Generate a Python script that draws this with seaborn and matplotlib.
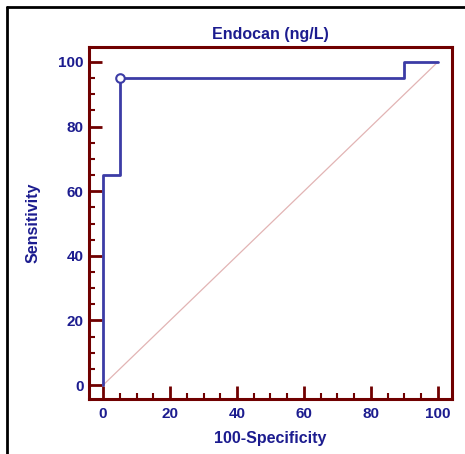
import matplotlib
matplotlib.use("Agg")
import matplotlib.pyplot as plt
from matplotlib.lines import Line2D
from matplotlib.ticker import MultipleLocator
import seaborn as sns
import pandas as pd

# ROC curve vertices (100-Specificity, Sensitivity)
fpr = [0, 0, 5, 5, 90, 90, 100]
sens = [0, 65, 65, 95, 95, 100, 100]
# criterion point (optimal cut-off)
cut_x = [5]
cut_y = [95]
diag = [0, 100]

navy = "#1c1c8f"
line_col = "#3c3ca6"
maroon = "#700000"

sns.set_theme(style="white")
plt.rcParams["font.family"] = ["Liberation Sans", "DejaVu Sans"]
plt.rcParams["font.weight"] = "bold"

fig = plt.figure(figsize=(4.65, 4.54), dpi=100)
ax = fig.add_axes([0.1914, 0.1211, 0.7806, 0.7753])

df = pd.DataFrame({"fpr": fpr, "sens": sens})
sns.lineplot(x=diag, y=diag, ax=ax, color="#e2b4b4", lw=0.9)
sns.lineplot(data=df, x="fpr", y="sens", sort=False, estimator=None, ax=ax,
             color=line_col, lw=2.0)
sns.scatterplot(x=cut_x, y=cut_y, ax=ax, s=38, facecolor="white",
                edgecolor=line_col, linewidth=1.5, zorder=5)

ax.set_xlim(-4.2, 104.2)
ax.set_ylim(-4.3, 104.6)
ax.xaxis.set_major_locator(MultipleLocator(20))
ax.xaxis.set_minor_locator(MultipleLocator(5))
ax.yaxis.set_major_locator(MultipleLocator(20))
ax.yaxis.set_minor_locator(MultipleLocator(5))

for sp in ax.spines.values():
    sp.set_color(maroon)
    sp.set_linewidth(2.2)

ax.tick_params(axis="both", which="both", bottom=True, left=True, top=False, right=False)
ax.tick_params(axis="both", which="major", direction="in", length=9.5, width=2,
               color=maroon, labelsize=11, labelcolor=navy, pad=4)
ax.tick_params(axis="both", which="minor", direction="in", length=4.5, width=1.5,
               color=maroon)
ax.tick_params(axis="x", which="major", pad=6)
for lab in ax.get_xticklabels() + ax.get_yticklabels():
    lab.set_fontweight("bold")

ax.set_title("Endocan (ng/L)", color=navy, fontsize=11.5, fontweight="bold", pad=6)
ax.set_xlabel("100-Specificity", color=navy, fontsize=11.5, fontweight="bold", labelpad=7)
ax.set_ylabel("Sensitivity", color=navy, fontsize=11.5, fontweight="bold", labelpad=12.5)

# outer frame (left and top edges visible)
fig.add_artist(Line2D([7 / 465, 7 / 465], [0, 1 - 7 / 454], color="black", lw=2,
                      transform=fig.transFigure))
fig.add_artist(Line2D([7 / 465, 1], [1 - 7 / 454, 1 - 7 / 454], color="black", lw=2,
                      transform=fig.transFigure))

fig.savefig("out.png", dpi=100)
